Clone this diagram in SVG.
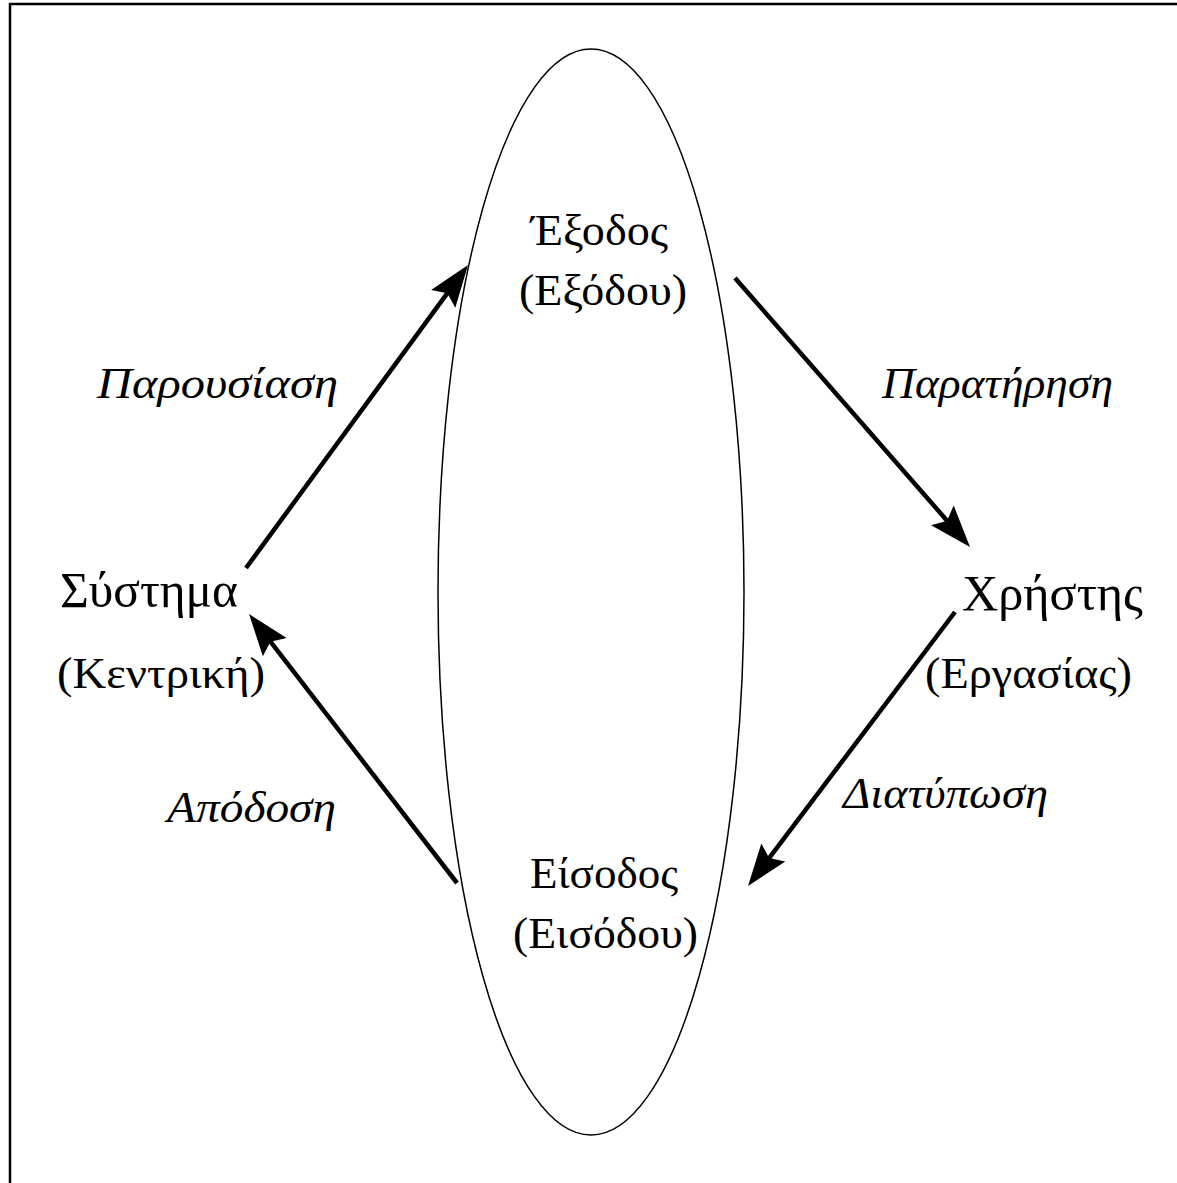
<svg xmlns="http://www.w3.org/2000/svg" width="1177" height="1183" viewBox="0 0 1177 1183">
<style>
.t{font-family:"Liberation Serif","Times New Roman",serif;fill:#000;text-anchor:middle}
.m{font-size:45px}
.b{font-size:50px}
.i{font-size:45px;font-style:italic}
.c{stroke:#000;stroke-width:4.5;fill:none}
</style>
<defs>
<marker id="ah" markerUnits="userSpaceOnUse" markerWidth="42" markerHeight="34" viewBox="0 0 42 34" refX="12" refY="17" orient="auto">
<path d="M0,2 L42,17 L0,32 L7,17 z" fill="#000"/>
</marker>
</defs>
<rect x="0" y="0" width="1177" height="1183" fill="#fff"/>
<path d="M10,1183 V4 H1177" fill="none" stroke="#000" stroke-width="2.5"/>
<g id="ellipse"><ellipse cx="591" cy="592" rx="153" ry="543" fill="none" stroke="#000" stroke-width="1.5"/></g>
<g id="connectors">
<line class="c" x1="246" y1="568" x2="450.3" y2="289.2" marker-end="url(#ah)"/>
<line class="c" x1="735" y1="278" x2="950.3" y2="524.4" marker-end="url(#ah)"/>
<line class="c" x1="955" y1="612" x2="766.1" y2="862.1" marker-end="url(#ah)"/>
<line class="c" x1="457" y1="883" x2="267.4" y2="637.7" marker-end="url(#ah)"/>
</g>
<g id="output"><text class="t m" x="599.5" y="245" textLength="137" lengthAdjust="spacingAndGlyphs">Έξοδος</text><text class="t m" x="603" y="305" textLength="168" lengthAdjust="spacingAndGlyphs">(Εξόδου)</text></g>
<g id="input"><text class="t m" x="604" y="888" textLength="148" lengthAdjust="spacingAndGlyphs">Είσοδος</text><text class="t m" x="605.5" y="948" textLength="185" lengthAdjust="spacingAndGlyphs">(Εισόδου)</text></g>
<g id="system"><text class="t b" x="149" y="607" textLength="178" lengthAdjust="spacingAndGlyphs">Σύστημα</text><text class="t m" x="161" y="688" textLength="208" lengthAdjust="spacingAndGlyphs">(Κεντρική)</text></g>
<g id="user"><text class="t b" x="1052.5" y="610" textLength="181" lengthAdjust="spacingAndGlyphs">Χρήστης</text><text class="t m" x="1028.5" y="688" textLength="207" lengthAdjust="spacingAndGlyphs">(Εργασίας)</text></g>
<g id="labels">
<text class="t i" x="217.5" y="398" textLength="241" lengthAdjust="spacingAndGlyphs">Παρουσίαση</text>
<text class="t i" x="997.5" y="398" textLength="231" lengthAdjust="spacingAndGlyphs">Παρατήρηση</text>
<text class="t i" x="945.5" y="808" textLength="205" lengthAdjust="spacingAndGlyphs">Διατύπωση</text>
<text class="t i" x="251.5" y="822" textLength="169" lengthAdjust="spacingAndGlyphs">Απόδοση</text>
</g>
</svg>
